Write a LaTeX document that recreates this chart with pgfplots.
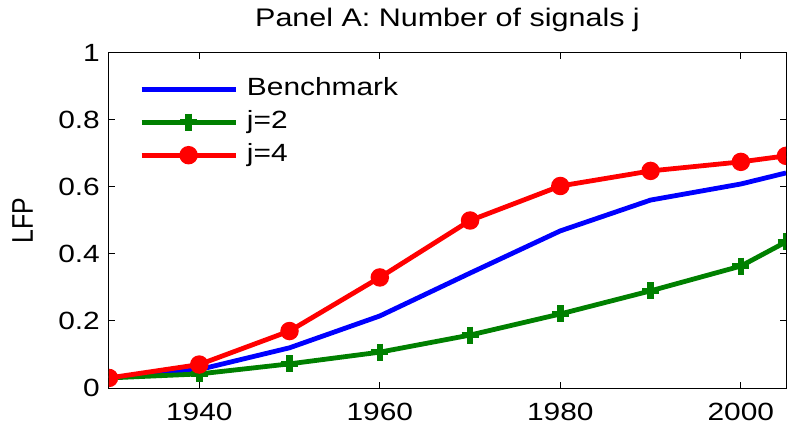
\documentclass[border=0pt]{standalone}
\usepackage{pgfplots}
\pgfplotsset{compat=1.18}
\usepackage{fontspec}
\setmainfont{Liberation Sans}[FakeStretch=1.2]
\newfontfamily\plainsans{Liberation Sans}
\definecolor{mblue}{RGB}{0,0,255}
\definecolor{mgreen}{RGB}{0,128,0}
\definecolor{mred}{RGB}{255,0,0}
\begin{document}
\begin{tikzpicture}
\begin{axis}[
  scale only axis,
  width=677bp, height=335bp,
  xmin=1930, xmax=2005, ymin=0, ymax=1,
  xtick={1940,1960,1980,2000},
  ytick={0,0.2,0.4,0.6,0.8,1},
  yticklabels={0,0.2,0.4,0.6,0.8,1},
  xticklabel style={/pgf/number format/1000 sep={}, inner sep=0pt, anchor=north, yshift=-15bp},
  yticklabel style={inner sep=0pt, anchor=east, xshift=-9bp},
  /pgf/number format/assume math mode=true,
  tick align=inside,
  major tick length=6bp,
  tick style={black, line width=1bp},
  axis line style={black, line width=1bp},
  ticklabel style={font=\fontsize{25}{28}\selectfont},
  title={Panel A: Number of signals j},
  title style={font=\fontsize{25.5}{28}\selectfont, at={(axis description cs:0.5,1)}, anchor=base, inner sep=0pt, yshift=21bp},
  ylabel={\scalebox{1}[1.2]{\plainsans LFP}},
  ylabel style={font=\fontsize{25}{28}\selectfont, at={(axis description cs:-0.1123,0.5)}, anchor=south, inner sep=0pt},
  legend style={at={(axis description cs:0.0443,0.9284)}, anchor=north west, draw=none, fill=none,
    inner sep=0pt, font=\fontsize{25}{28}\selectfont, row sep=9bp, column sep=9bp,
    nodes={inner sep=0pt, text height=18bp, text depth=6bp}},
  legend cell align=left,
  legend image code/.code={\draw[mark repeat=2,mark phase=2] plot coordinates {(0bp,0bp)(47bp,0bp)(94bp,0bp)};},
  clip marker paths=true,
]
\addplot[mblue, line width=4.8bp, no markers] coordinates {
(1930,0.03)(1940,0.055)(1950,0.12)(1960,0.215)(1970,0.343)(1980,0.469)(1990,0.561)(2000,0.609)(2005,0.642)};
\addlegendentry{Benchmark}
\addplot[mgreen, line width=4.8bp, mark=+, mark size=8.5bp, mark options={line width=6.5bp}] coordinates {
(1930,0.03)(1940,0.042)(1950,0.072)(1960,0.107)(1970,0.158)(1980,0.221)(1990,0.29)(2000,0.364)(2005,0.436)};
\addlegendentry{j=2}
\addplot[mred, line width=4.8bp, mark=*, mark size=6.8bp, mark options={fill=mred, draw=none}] coordinates {
(1930,0.03)(1940,0.07)(1950,0.17)(1960,0.33)(1970,0.50)(1980,0.603)(1990,0.648)(2000,0.675)(2005,0.693)};
\addlegendentry{j=4}
\coordinate (bbsw) at (rel axis cs:0,0);
\coordinate (bbne) at (rel axis cs:1,1);
\end{axis}
\pgfresetboundingbox
\path (bbsw) ++(-109bp,-38bp) coordinate (a);
\path (bbne) ++(3bp,53bp) coordinate (b);
\useasboundingbox (a) rectangle (b);
\end{tikzpicture}
\end{document}
